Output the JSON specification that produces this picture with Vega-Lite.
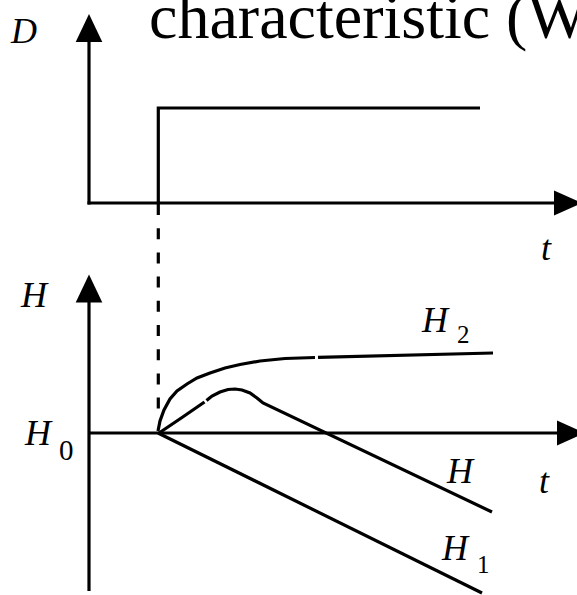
{
  "$schema": "https://vega.github.io/schema/vega-lite/v6.json",
  "width": 577,
  "height": 595,
  "padding": 0,
  "autosize": {"type": "fit", "contains": "padding"},
  "background": "white",
  "config": {"view": {"stroke": null}},
  "datasets": {
    "lines": [
      {"id": "topV", "i": 0, "x": 89, "y": 40},
      {"id": "topV", "i": 1, "x": 89, "y": 204.5},
      {"id": "topH", "i": 0, "x": 87.5, "y": 203},
      {"id": "topH", "i": 1, "x": 556, "y": 203},
      {"id": "step", "i": 0, "x": 158.3, "y": 203},
      {"id": "step", "i": 1, "x": 158.3, "y": 108},
      {"id": "step", "i": 2, "x": 480, "y": 108},
      {"id": "botV", "i": 0, "x": 89, "y": 300},
      {"id": "botV", "i": 1, "x": 89, "y": 591},
      {"id": "botH", "i": 0, "x": 89, "y": 433},
      {"id": "botH", "i": 1, "x": 559, "y": 433},
      {"id": "H1", "i": 0, "x": 158, "y": 433},
      {"id": "H1", "i": 1, "x": 482, "y": 593},
      {"id": "Ha", "i": 0, "x": 159, "y": 433},
      {"id": "Ha", "i": 1, "x": 182, "y": 417.5},
      {"id": "Ha", "i": 2, "x": 204.5, "y": 402},
      {"id": "Hb", "i": 0, "x": 206.5, "y": 400.5},
      {"id": "Hb", "i": 1, "x": 212, "y": 396},
      {"id": "Hb", "i": 2, "x": 220, "y": 392},
      {"id": "Hb", "i": 3, "x": 228, "y": 389.5},
      {"id": "Hb", "i": 4, "x": 235, "y": 389},
      {"id": "Hb", "i": 5, "x": 242, "y": 390},
      {"id": "Hb", "i": 6, "x": 250, "y": 393},
      {"id": "Hb", "i": 7, "x": 257, "y": 398},
      {"id": "Hb", "i": 8, "x": 263, "y": 403},
      {"id": "Hb", "i": 9, "x": 492, "y": 512},
      {"id": "H2a", "i": 0, "x": 158, "y": 431},
      {"id": "H2a", "i": 1, "x": 160, "y": 421},
      {"id": "H2a", "i": 2, "x": 164, "y": 410},
      {"id": "H2a", "i": 3, "x": 170, "y": 399},
      {"id": "H2a", "i": 4, "x": 177, "y": 391},
      {"id": "H2a", "i": 5, "x": 187, "y": 384},
      {"id": "H2a", "i": 6, "x": 197, "y": 378},
      {"id": "H2a", "i": 7, "x": 210, "y": 373},
      {"id": "H2a", "i": 8, "x": 225, "y": 368},
      {"id": "H2a", "i": 9, "x": 240, "y": 364.5},
      {"id": "H2a", "i": 10, "x": 260, "y": 361},
      {"id": "H2a", "i": 11, "x": 285, "y": 358.5},
      {"id": "H2a", "i": 12, "x": 315, "y": 357.5},
      {"id": "H2b", "i": 0, "x": 318, "y": 357.4},
      {"id": "H2b", "i": 1, "x": 493, "y": 353}
    ],
    "dash": [
      {"i": 0, "x": 158.3, "y": 204},
      {"i": 1, "x": 158.3, "y": 410}
    ],
    "upArrows": [
      {"x": 89, "y": 28},
      {"x": 89, "y": 288.5}
    ],
    "rightArrows": [
      {"x": 568, "y": 203},
      {"x": 571, "y": 433}
    ],
    "title": [
      {"x": 149, "y": 38, "label": "characteristic (W"}
    ],
    "italicLabels": [
      {"x": 11, "y": 43, "label": "D"},
      {"x": 541, "y": 260, "label": "t"},
      {"x": 21, "y": 307, "label": "H"},
      {"x": 25, "y": 445, "label": "H"},
      {"x": 422, "y": 332, "label": "H"},
      {"x": 447, "y": 483, "label": "H"},
      {"x": 539, "y": 493, "label": "t"},
      {"x": 442, "y": 560, "label": "H"}
    ],
    "subBig": [
      {"x": 59, "y": 460, "label": "0"}
    ],
    "subSmall": [
      {"x": 457, "y": 343, "label": "2"},
      {"x": 477, "y": 573, "label": "1"}
    ]
  },
  "encoding": {
    "x": {"field": "x", "type": "quantitative", "scale": {"domain": [0, 577], "nice": false, "zero": false}, "axis": null},
    "y": {"field": "y", "type": "quantitative", "scale": {"domain": [0, 595], "nice": false, "zero": false, "reverse": true}, "axis": null}
  },
  "layer": [
    {
      "data": {"name": "lines"},
      "mark": {"type": "line", "color": "black", "strokeWidth": 3.2, "strokeJoin": "miter", "clip": true},
      "encoding": {
        "detail": {"field": "id", "type": "nominal"},
        "order": {"field": "i", "type": "quantitative"}
      }
    },
    {
      "data": {"name": "dash"},
      "mark": {"type": "line", "color": "black", "strokeWidth": 3.2, "strokeDash": [11, 13.2]},
      "encoding": {"order": {"field": "i", "type": "quantitative"}}
    },
    {
      "data": {"name": "upArrows"},
      "mark": {"type": "point", "shape": "M0,-1L0.95,1L-0.95,1Z", "size": 784, "filled": true, "color": "black", "opacity": 1, "strokeWidth": 0, "clip": true}
    },
    {
      "data": {"name": "rightArrows"},
      "mark": {"type": "point", "shape": "M1,0L-1,-0.9L-1,0.9Z", "size": 784, "filled": true, "color": "black", "opacity": 1, "strokeWidth": 0, "clip": true}
    },
    {
      "data": {"name": "title"},
      "mark": {"type": "text", "font": "Liberation Serif", "fontSize": 64, "align": "left", "baseline": "alphabetic", "color": "black", "clip": true},
      "encoding": {"text": {"field": "label"}}
    },
    {
      "data": {"name": "italicLabels"},
      "mark": {"type": "text", "font": "Liberation Serif", "fontStyle": "italic", "fontSize": 36, "align": "left", "baseline": "alphabetic", "color": "black"},
      "encoding": {"text": {"field": "label"}}
    },
    {
      "data": {"name": "subBig"},
      "mark": {"type": "text", "font": "Liberation Serif", "fontSize": 29, "align": "left", "baseline": "alphabetic", "color": "black"},
      "encoding": {"text": {"field": "label"}}
    },
    {
      "data": {"name": "subSmall"},
      "mark": {"type": "text", "font": "Liberation Serif", "fontSize": 25, "align": "left", "baseline": "alphabetic", "color": "black"},
      "encoding": {"text": {"field": "label"}}
    }
  ]
}
